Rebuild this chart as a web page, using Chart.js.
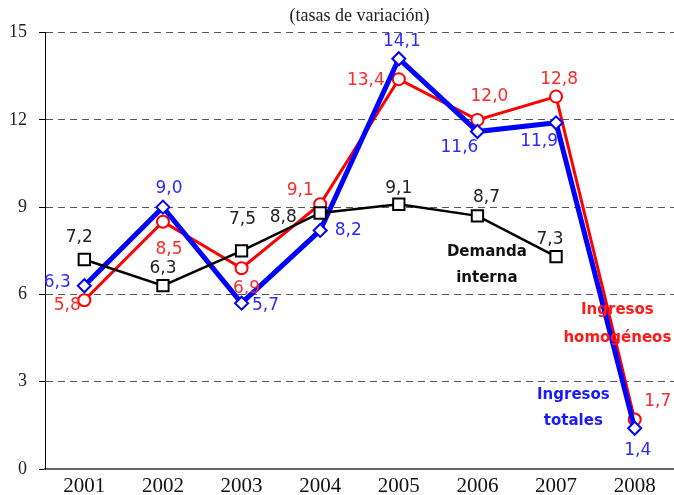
<!DOCTYPE html>
<html>
<head>
<meta charset="utf-8">
<script src="https://cdn.jsdelivr.net/npm/chart.js@4/dist/chart.umd.min.js"></script>
<style>
  html, body { margin: 0; padding: 0; background: #fff; }
  #wrap { width: 674px; height: 495px; }
</style>
</head>
<body>
<div id="wrap"><canvas id="chart" width="674" height="495"></canvas></div>
<script>
// ── Data ─────────────────────────────────────────────────────
const years = ['2001', '2002', '2003', '2004', '2005', '2006', '2007', '2008'];
const demandaInterna     = [7.2, 6.3, 7.5, 8.8, 9.1, 8.7, 7.3, null];
const ingresosHomogeneos = [5.8, 8.5, 6.9, 9.1, 13.4, 12.0, 12.8, 1.7];
const ingresosTotales    = [6.3, 9.0, 5.7, 8.2, 14.1, 11.6, 11.9, 1.4];
const yTicks = [0, 3, 6, 9, 12, 15];

// label offsets (px) from each point, per series
const offDemanda = [[-5, -22], [0, -17], [1, -31], [-37, 5], [0, -16], [9, -18], [-6, -17], [0, 0]];
const offHomog   = [[-17, 5], [6, 28], [5, 20], [-20, -14], [-33, 1], [12, -23], [3, -17], [23, -18]];
const offTotales = [[-27, -3], [6, -19], [24, 2], [28, 0], [3, -17], [-18, 16], [-17, 19], [3, 22]];

// series name captions, in data coordinates (category index, value)
const captions = [
  { lines: ['Demanda', 'interna'], x: 5.12, y: [7.45, 6.55], color: '#111' },
  { lines: ['Ingresos', 'homogéneos'], x: 6.78, y: [5.45, 4.5], color: '#ff1a1a' },
  { lines: ['Ingresos', 'totales'], x: 6.22, y: [2.53, 1.64], color: '#1a1aff' },
];

const fmt = v => v.toFixed(1).replace('.', ',');

// ── Plugins ──────────────────────────────────────────────────
const valueLabels = {
  id: 'valueLabels',
  afterDatasetsDraw(chart) {
    const ctx = chart.ctx;
    ctx.save();
    ctx.font = '17px "DejaVu Sans"';
    ctx.textAlign = 'center';
    ctx.textBaseline = 'middle';
    chart.data.datasets.forEach((ds, i) => {
      const meta = chart.getDatasetMeta(i);
      meta.data.forEach((pt, j) => {
        const v = ds.data[j];
        if (v === null) return;
        const [dx, dy] = ds.labelOffsets[j];
        ctx.fillStyle = ds.labelColor;
        ctx.fillText(fmt(v), pt.x + dx, pt.y + dy);
      });
    });
    ctx.restore();
  }
};

const seriesCaptions = {
  id: 'seriesCaptions',
  afterDatasetsDraw(chart) {
    const { ctx, scales: { x, y } } = chart;
    ctx.save();
    ctx.font = 'bold 15px "DejaVu Sans"';
    ctx.textAlign = 'center';
    ctx.textBaseline = 'middle';
    captions.forEach(c => {
      ctx.fillStyle = c.color;
      c.lines.forEach((t, k) => {
        ctx.fillText(t, x.getPixelForValue(c.x), y.getPixelForValue(c.y[k]));
      });
    });
    ctx.restore();
  }
};

// ── Chart ────────────────────────────────────────────────────
new Chart(document.getElementById('chart'), {
  type: 'line',
  data: {
    labels: years,
    datasets: [
      {
        label: 'Demanda interna',
        data: demandaInterna,
        borderColor: '#000',
        borderWidth: 2.5,
        pointStyle: 'rect',
        pointRadius: 8,
        pointBorderWidth: 2,
        pointBorderColor: '#000',
        pointBackgroundColor: '#fff',
        labelColor: '#222',
        labelOffsets: offDemanda,
      },
      {
        label: 'Ingresos totales',
        data: ingresosTotales,
        borderColor: '#0000ff',
        borderWidth: 5,
        pointStyle: 'rectRot',
        pointRadius: 6.5,
        pointBorderWidth: 2,
        pointBorderColor: '#0000ff',
        pointBackgroundColor: '#fff',
        labelColor: '#2a2aff',
        labelOffsets: offTotales,
      },
      {
        label: 'Ingresos homogéneos',
        data: ingresosHomogeneos,
        borderColor: '#ff0000',
        borderWidth: 3,
        pointStyle: 'circle',
        pointRadius: 6,
        pointBorderWidth: 2,
        pointBorderColor: '#ff0000',
        pointBackgroundColor: '#fff',
        labelColor: '#ff2a2a',
        labelOffsets: offHomog,
      },
    ]
  },
  options: {
    responsive: false,
    animation: false,
    devicePixelRatio: 1,
    layout: { autoPadding: false, padding: { left: 0, right: -2, top: 0, bottom: 0 } },
    plugins: {
      legend: { display: false },
      tooltip: { enabled: false },
      title: {
        display: true,
        fullSize: false,
        text: '(tasas de variación)',
        color: '#222',
        font: { family: 'Liberation Serif', size: 18, weight: 'normal' },
        padding: { top: 5, bottom: 6 },
      },
    },
    scales: {
      x: {
        offset: true,
        grid: { display: false, drawTicks: false },
        border: { display: true, color: '#666', width: 2 },
        ticks: {
          color: '#111',
          font: { family: 'Liberation Serif', size: 21 },
          padding: 5,
          maxRotation: 0,
        },
        afterFit: s => { s.height = 26; s.paddingLeft = 0; s.paddingRight = 0; },
      },
      y: {
        min: 0,
        max: 15,
        afterBuildTicks: s => { s.ticks = yTicks.map(v => ({ value: v })); },
        grid: {
          color: '#555',
          lineWidth: 1,
          drawTicks: true,
          tickLength: 6,
          tickColor: '#000',
          tickWidth: 1,
          tickBorderDash: [],
        },
        border: { display: true, color: '#000', width: 1, dash: [7, 5] },
        ticks: {
          color: '#222',
          font: { family: 'Liberation Serif', size: 18 },
          padding: 12,
        },
        afterFit: s => { s.width = 45; },
      }
    }
  },
  plugins: [valueLabels, seriesCaptions]
});
</script>
</body>
</html>
